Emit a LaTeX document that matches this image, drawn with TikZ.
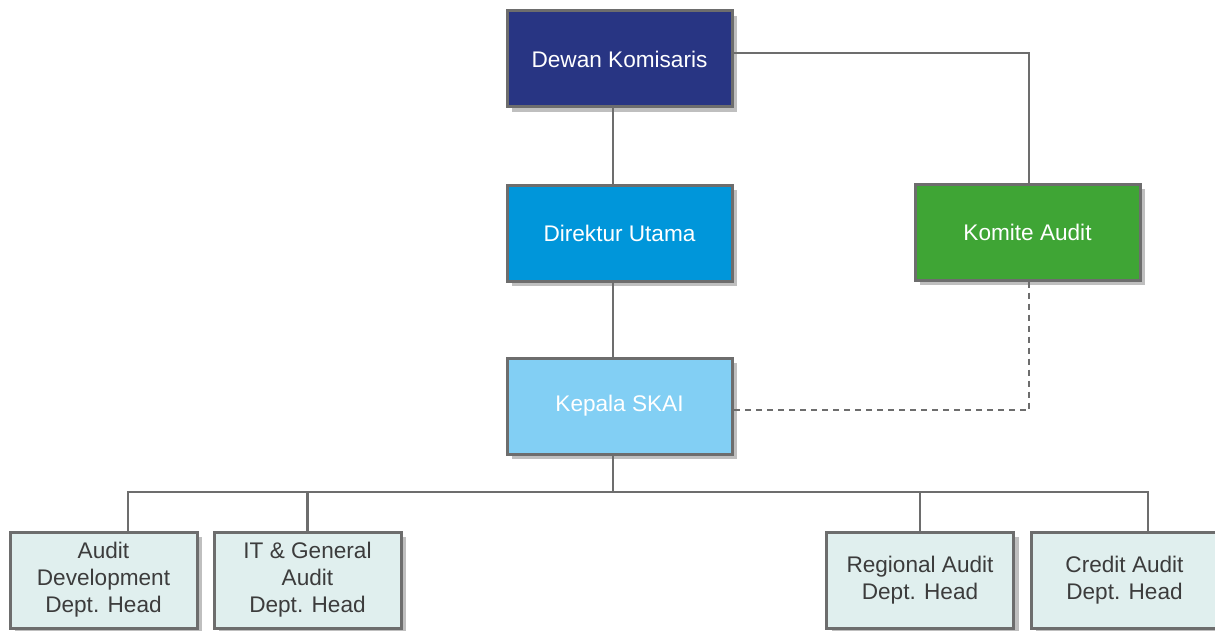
\documentclass[tikz,border=0pt]{standalone}
\usepackage{fontspec}
\setmainfont{Liberation Sans}
\usetikzlibrary{shadows}

\definecolor{komisaris}{HTML}{283583}
\definecolor{direktur}{HTML}{0096DA}
\definecolor{komite}{HTML}{3FA535}
\definecolor{skai}{HTML}{82CFF4}
\definecolor{dept}{HTML}{E0EFEE}
\definecolor{garis}{HTML}{6D6D6D}
\definecolor{teks}{HTML}{3C3C3C}

\begin{document}
\begin{tikzpicture}[x=0.5pt, y=-0.5pt,
        box/.style={rectangle, draw=garis, line width=1.5pt, minimum width=112.5pt, minimum height=48pt,
            inner sep=0pt, align=center, text=white, font=\fontsize{11.3}{13.5}\selectfont,
            drop shadow={shadow xshift=2.5pt, shadow yshift=-2.5pt, fill=black, opacity=0.25}},
        deptbox/.style={box, minimum width=93.5pt, fill=dept, text=teks},
        conn/.style={draw=garis, line width=1.4pt}]
        \useasboundingbox (0, 0) rectangle (1215, 631);

        % Nodes
        \node[box, fill=komisaris] at (619.5, 59)  (dewan)   {Dewan Komisaris};
        \node[box, fill=direktur]  at (619.5, 233) (dirut)   {Direktur Utama};
        \node[box, fill=komite]    at (1027.5, 232) (komite) {Komite Audit};
        \node[box, fill=skai]      at (619.5, 406) (skai)    {Kepala SKAI};

        \node[deptbox] at (103.5, 580)  (adev)   {Audit\\Development\\Dept. Head};
        \node[deptbox] at (307.5, 580)  (itga)   {IT \& General\\Audit\\Dept. Head};
        \node[deptbox] at (920, 580)    (reg)    {Regional Audit\\Dept. Head};
        \node[deptbox] at (1124.5, 580) (credit) {Credit Audit\\Dept. Head};

        % Lines
        \draw[conn] ([xshift=-3.25pt]dewan.south) -- ([xshift=-3.25pt]dirut.north);
        \draw[conn] ([xshift=-3.25pt]dirut.south) -- ([xshift=-3.25pt]skai.north);
        \draw[conn] ([yshift=3pt]dewan.east) -| ([xshift=0.75pt]komite.north);
        \draw[conn, dash pattern=on 3pt off 2.5pt] ([xshift=0.75pt]komite.south) |- ([yshift=-2pt]skai.east);

        % Bus
        \coordinate (bus) at (613, 492);
        \draw[conn] ([xshift=-3.25pt]skai.south) -- (bus);
        \draw[conn] (bus) -| ([xshift=12.25pt]adev.north);
        \draw[conn] (bus) -| (itga.north);
        \draw[conn] (bus) -| (reg.north);
        \draw[conn] (bus) -| ([xshift=11.75pt]credit.north);

    \end{tikzpicture}
\end{document}
